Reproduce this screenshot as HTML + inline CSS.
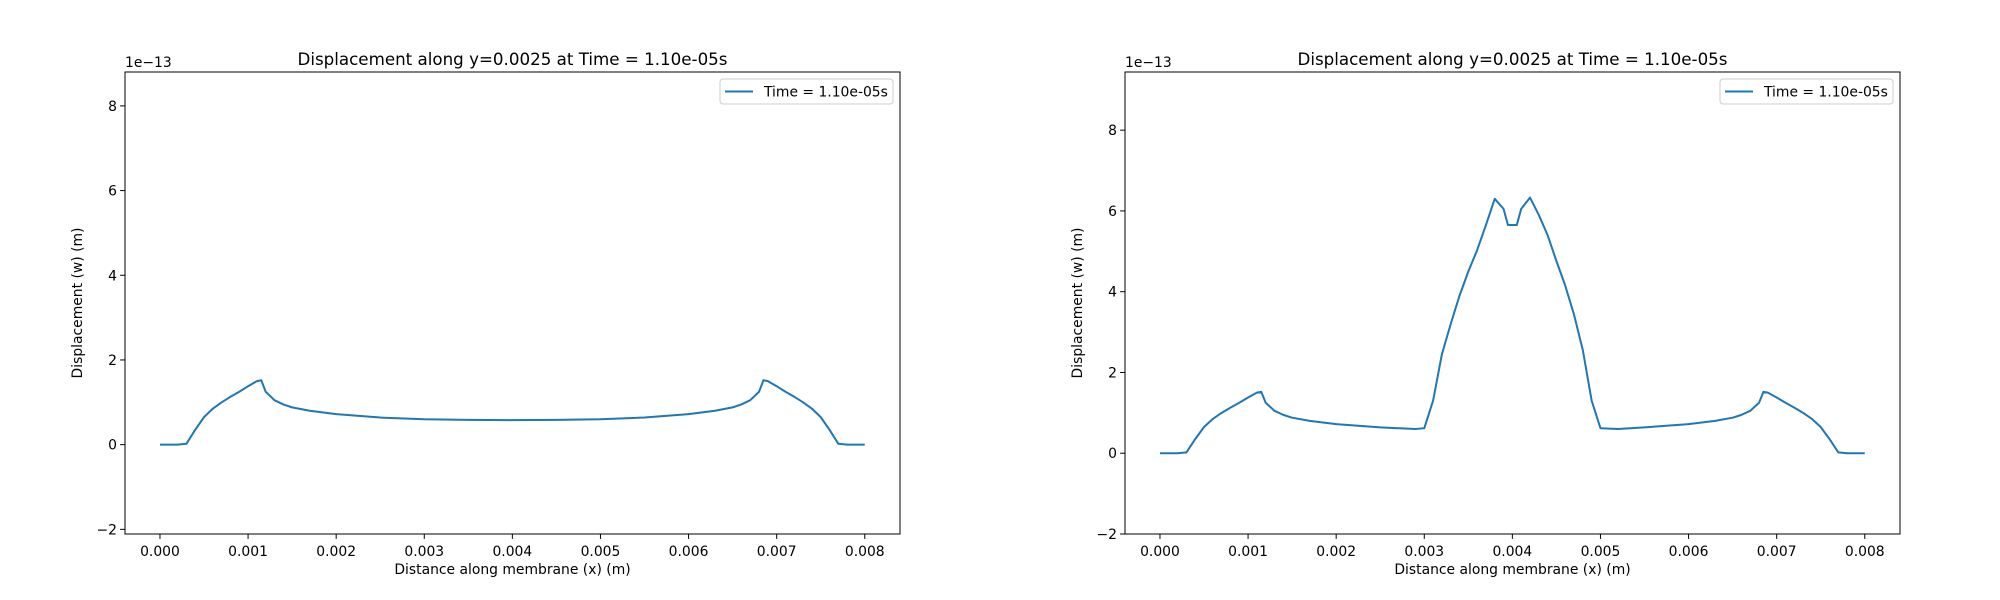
<!DOCTYPE html>
<html><head><meta charset="utf-8"><style>
body{margin:0;background:#fff}
svg{display:block;font-family:"DejaVu Sans","Liberation Sans",sans-serif}
</style></head><body>
<svg id="fig" width="2000" height="600" xmlns="http://www.w3.org/2000/svg"></svg>
<script>
const xTicks=[0,0.001,0.002,0.003,0.004,0.005,0.006,0.007,0.008];
const xTickLabels=["0.000","0.001","0.002","0.003","0.004","0.005","0.006","0.007","0.008"];
const yTicks=[-2,0,2,4,6,8];
const yTickLabels=["\u22122","0","2","4","6","8"];
const leftX=[0,0.0002,0.0003,0.0004,0.0005,0.0006,0.0007,0.0008,0.0009,0.001,0.0011,0.00115,0.0012,0.0013,0.0014,0.0015,0.0017,0.002,0.0025,0.003,0.0035,0.004,0.0045,0.005,0.0055,0.006,0.0063,0.0065,0.0066,0.0067,0.0068,0.00685,0.0069,0.0070,0.0071,0.0072,0.0073,0.0074,0.0075,0.0076,0.0077,0.0078,0.008];
const leftY=[0,0,0.02,0.35,0.65,0.85,1.0,1.13,1.25,1.38,1.5,1.52,1.25,1.05,0.95,0.88,0.8,0.72,0.64,0.6,0.585,0.58,0.585,0.6,0.64,0.72,0.8,0.88,0.95,1.05,1.25,1.52,1.5,1.38,1.25,1.13,1.0,0.85,0.65,0.35,0.02,0,0];
const rightX=[0,0.0002,0.0003,0.0004,0.0005,0.0006,0.0007,0.0008,0.0009,0.001,0.0011,0.00115,0.0012,0.0013,0.0014,0.0015,0.0017,0.002,0.0025,0.0029,0.003,0.0031,0.0032,0.0033,0.0034,0.0035,0.0036,0.0037,0.0038,0.0039,0.00395,0.00405,0.0041,0.0042,0.0043,0.0044,0.0045,0.0046,0.0047,0.0048,0.0049,0.005,0.0052,0.0055,0.006,0.0063,0.0065,0.0066,0.0067,0.0068,0.00685,0.0069,0.0070,0.0071,0.0072,0.0073,0.0074,0.0075,0.0076,0.0077,0.0078,0.008];
const rightY=[0,0,0.02,0.35,0.65,0.85,1.0,1.13,1.25,1.38,1.5,1.52,1.25,1.05,0.95,0.88,0.8,0.72,0.64,0.6,0.62,1.3,2.45,3.2,3.9,4.5,5.03,5.65,6.3,6.05,5.65,5.65,6.05,6.33,5.9,5.4,4.76,4.15,3.43,2.55,1.3,0.62,0.6,0.64,0.72,0.8,0.88,0.95,1.05,1.25,1.52,1.5,1.38,1.25,1.13,1.0,0.85,0.65,0.35,0.02,0,0];
const NS="http://www.w3.org/2000/svg";
const svg=document.getElementById('fig');
function mk(tag,attrs,parent){const e=document.createElementNS(NS,tag);for(const k in attrs)e.setAttribute(k,attrs[k]);(parent||svg).appendChild(e);return e;}
function panel(id,left,xs,ys,ymin,ymax){
  const L=left,W=775,T=72,B=534,H=B-T;
  const xmin=-0.000397,xmax=0.0084;
  const sx=v=>L+(v-xmin)/(xmax-xmin)*W;
  const sy=v=>B-(v-ymin)/(ymax-ymin)*H;
  const g=mk('g',{});
  
  
  const t=mk('text',{x:L+W/2,y:T-7,'text-anchor':'middle','font-size':'16.7'},g);
  t.textContent='Displacement along y=0.0025 at Time = 1.10e-05s';
  
  
  xTicks.forEach((v,i)=>{
    mk('line',{x1:sx(v),x2:sx(v),y1:B,y2:B+4.9,stroke:'#000','stroke-width':1},g);
    const tl=mk('text',{x:sx(v),y:B+22,'text-anchor':'middle','font-size':'13.9'},g);
    tl.textContent=xTickLabels[i];
    
    
  });
  yTicks.forEach((v,i)=>{
    mk('line',{x1:L,x2:L-4.9,y1:sy(v),y2:sy(v),stroke:'#000','stroke-width':1},g);
    const tl=mk('text',{x:L-8,y:sy(v)+5,'text-anchor':'end','font-size':'13.9'},g);
    tl.textContent=yTickLabels[i];
    
    
  });
  const off=mk('text',{x:L,y:T-5,'font-size':'13.9'},g);
  off.textContent='1e\u221213';
  
  
  const xl=mk('text',{x:L+W/2,y:B+40,'text-anchor':'middle','font-size':'13.9'},g);
  xl.textContent='Distance along membrane (x) (m)';
  
  
  const yl=mk('text',{x:0,y:0,'text-anchor':'middle','font-size':'13.9',transform:`translate(${L-43},${(T+B)/2}) rotate(-90)`},g);
  yl.textContent='Displacement (w) (m)';
  
  
  const d=xs.map((v,i)=>(i?'L':'M')+sx(v).toFixed(2)+','+sy(ys[i]).toFixed(2)).join('');
  const p=mk('path',{d:d,fill:'none',stroke:'#1f77b4','stroke-width':2,'stroke-linejoin':'round'},g);
  
  
  const fr=mk('rect',{x:L,y:T,width:W,height:H,fill:'none',stroke:'#000','stroke-width':1},g);
  
  
  const lg=mk('g',{},g);
  
  
  mk('rect',{x:L+W-180,y:T+7,width:173,height:25,rx:3,fill:'#fff','fill-opacity':0.8,stroke:'#ccc'},lg);
  mk('line',{x1:L+W-175,x2:L+W-147,y1:T+19.5,y2:T+19.5,stroke:'#1f77b4','stroke-width':2},lg);
  const lt=mk('text',{x:L+W-136,y:T+24.5,'font-size':'13.9'},lg);
  lt.textContent='Time = 1.10e-05s';
  
  
}
panel('left',125,leftX,leftY,-2.11,8.80);
panel('right',1125,rightX,rightY,-2.0,9.44);
</script>
</body></html>
